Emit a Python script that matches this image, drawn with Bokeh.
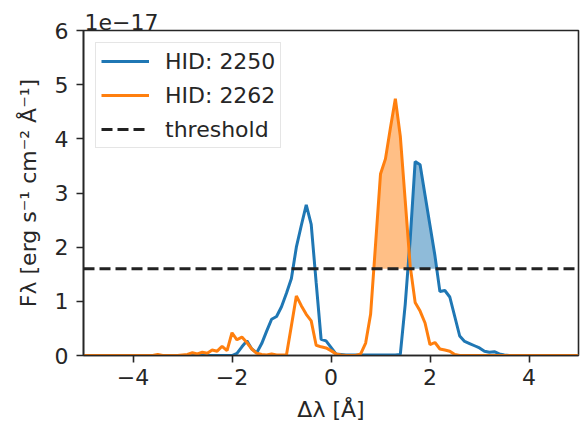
import numpy as np
from bokeh.plotting import figure
from bokeh.models import Range1d, FixedTicker, ColumnDataSource
from bokeh.embed import file_html
from bokeh.resources import INLINE

# Wavelength offset grid [Angstrom]
delta_lambda = np.round(np.linspace(-5.0, 5.0, 101), 1)

# Flux density in units of 1e-17 erg s^-1 cm^-2 A^-1
flux_2250 = [
    0, 0, 0, 0, 0, 0, 0, 0, 0, 0,                               # -5.0 .. -4.1
    0, 0, 0, 0, 0, 0, 0, 0, 0, 0,                               # -4.0 .. -3.1
    0, 0, 0, 0, 0, 0, 0, 0, 0, 0,                               # -3.0 .. -2.1
    0.00, 0.04, 0.16, 0.27, 0.12, 0.05, 0.22, 0.45, 0.67, 0.72,  # -2.0 .. -1.1
    0.90, 1.15, 1.42, 2.00, 2.40, 2.78, 2.42, 1.35, 0.30, 0.27,  # -1.0 .. -0.1
    0.15, 0.03, 0.02, 0.01, 0.01, 0.01, 0.01, 0.01, 0.01, 0.01,  #  0.0 ..  0.9
    0.01, 0.01, 0.01, 0.01, 0.02, 0.95, 2.15, 3.58, 3.52, 2.96,  #  1.0 ..  1.9
    2.40, 1.84, 1.18, 1.20, 1.08, 0.72, 0.36, 0.26, 0.22, 0.18,  #  2.0 ..  2.9
    0.14, 0.08, 0.06, 0.07, 0.03, 0.01, 0, 0, 0, 0,              #  3.0 ..  3.9
    0, 0, 0, 0, 0, 0, 0, 0, 0, 0,                               #  4.0 ..  4.9
    0,                                                          #  5.0
]
flux_2262 = [
    0, 0, 0, 0, 0, 0, 0, 0, 0, 0,                               # -5.0 .. -4.1
    0, 0, 0, 0, 0, 0.02, 0, 0, 0, 0,                            # -4.0 .. -3.1
    0.01, 0.02, 0.05, 0.03, 0.06, 0.04, 0.10, 0.08, 0.17, 0.09,  # -3.0 .. -2.1
    0.42, 0.29, 0.34, 0.24, 0.12, 0.04, 0.02, 0.01, 0.03, 0.01,  # -2.0 .. -1.1
    0.01, 0.01, 0.55, 1.10, 0.92, 0.76, 0.64, 0.19, 0.16, 0.14,  # -1.0 .. -0.1
    0.09, 0.03, 0.01, 0, 0, 0, 0.03, 0.23, 0.76, 2.05,           #  0.0 ..  0.9
    3.35, 3.63, 4.20, 4.74, 4.05, 2.85, 1.65, 0.98, 0.82, 0.60,  #  1.0 ..  1.9
    0.20, 0.24, 0.12, 0.10, 0.08, 0.02, 0, 0, 0, 0,              #  2.0 ..  2.9
    0, 0, 0, 0, 0, 0, 0, 0, 0, 0,                               #  3.0 ..  3.9
    0, 0, 0, 0, 0, 0, 0, 0, 0, 0,                               #  4.0 ..  4.9
    0,                                                          #  5.0
]
threshold = 1.6
labels = ["HID: 2250", "HID: 2262", "threshold"]
colors = ["#1f77b4", "#ff7f0e", "#222222"]
x_ticks = [-4, -2, 0, 2, 4]
y_ticks = [0, 1, 2, 3, 4, 5, 6]
offset_text = "1e\u221217"

FONT = "DejaVu Sans"
TXT = "#262626"
FS = "22px"


def above_threshold(x, y, thr, xmin=0.0):
    """Return x, upper-y arrays of the region where y exceeds thr (x > xmin)."""
    x = list(x)
    y = list(y)
    xs, ys = [], []
    for i in range(len(x) - 1):
        xs.append(x[i]); ys.append(y[i])
        if (y[i] - thr) * (y[i + 1] - thr) < 0:
            t = (thr - y[i]) / (y[i + 1] - y[i])
            xs.append(x[i] + t * (x[i + 1] - x[i])); ys.append(thr)
    xs.append(x[-1]); ys.append(y[-1])
    xs = np.array(xs)
    ys = np.maximum(np.array(ys), thr)
    ys[xs <= xmin] = thr
    return xs, ys


p = figure(width=588, height=431,
           x_range=Range1d(-5, 5), y_range=Range1d(0, 6),
           output_backend="svg", toolbar_location=None,
           title=offset_text,
           min_border_left=83, min_border_right=10,
           min_border_top=30, min_border_bottom=76)
p.background_fill_color = "white"
p.border_fill_color = "white"
p.xgrid.visible = False
p.ygrid.visible = False
p.outline_line_color = TXT
p.outline_line_width = 1.6

p.title.align = "left"
p.title.text_font = FONT
p.title.text_font_size = FS
p.title.text_font_style = "normal"
p.title.text_color = TXT
p.title.offset = 1
p.title.standoff = 2

# filled regions above threshold
for flux, col in [(flux_2262, colors[1]), (flux_2250, colors[0])]:
    fx, fy = above_threshold(delta_lambda, flux, threshold)
    src = ColumnDataSource(dict(x=fx, y1=np.full(len(fx), threshold), y2=fy))
    p.varea(x="x", y1="y1", y2="y2", source=src, fill_color=col, fill_alpha=0.5)

p.line(delta_lambda, flux_2250, line_color=colors[0], line_width=3, legend_label=labels[0])
p.line(delta_lambda, flux_2262, line_color=colors[1], line_width=3, legend_label=labels[1])
p.line([delta_lambda[0], delta_lambda[-1]], [threshold, threshold],
       line_color=colors[2], line_width=3, line_dash="11 5", legend_label=labels[2])

for ax in (p.xaxis[0], p.yaxis[0]):
    ax.axis_line_color = TXT
    ax.axis_line_width = 1.6
    ax.major_tick_line_color = TXT
    ax.major_tick_line_width = 1.6
    ax.major_tick_out = 7
    ax.major_tick_in = 0
    ax.minor_tick_line_color = None
    ax.major_label_text_font = FONT
    ax.major_label_text_font_size = FS
    ax.major_label_text_color = TXT
    ax.axis_label_text_font = FONT
    ax.axis_label_text_font_size = FS
    ax.axis_label_text_font_style = "normal"
    ax.axis_label_text_color = TXT

p.xaxis.ticker = FixedTicker(ticks=x_ticks)
p.yaxis.ticker = FixedTicker(ticks=y_ticks)
p.xaxis.major_label_standoff = 6
p.yaxis.major_label_standoff = 8
p.xaxis.axis_label = "Δλ [Å]"
p.yaxis.axis_label = "Fλ [erg s\u207b\u00b9 cm\u207b\u00b2 Å\u207b\u00b9]"
p.xaxis.axis_label_standoff = 9
p.yaxis.axis_label_standoff = 11

lg = p.legend[0]
lg.location = "top_left"
lg.margin = 12
lg.padding = 5
lg.spacing = 8
lg.glyph_width = 48
lg.glyph_height = 26
lg.label_height = 26
lg.label_standoff = 16
lg.label_text_font = FONT
lg.label_text_font_size = FS
lg.label_text_color = TXT
lg.border_line_color = "#cccccc"
lg.border_line_width = 1.5
lg.background_fill_alpha = 0.8

open("out.html", "w").write(file_html(p, INLINE))
